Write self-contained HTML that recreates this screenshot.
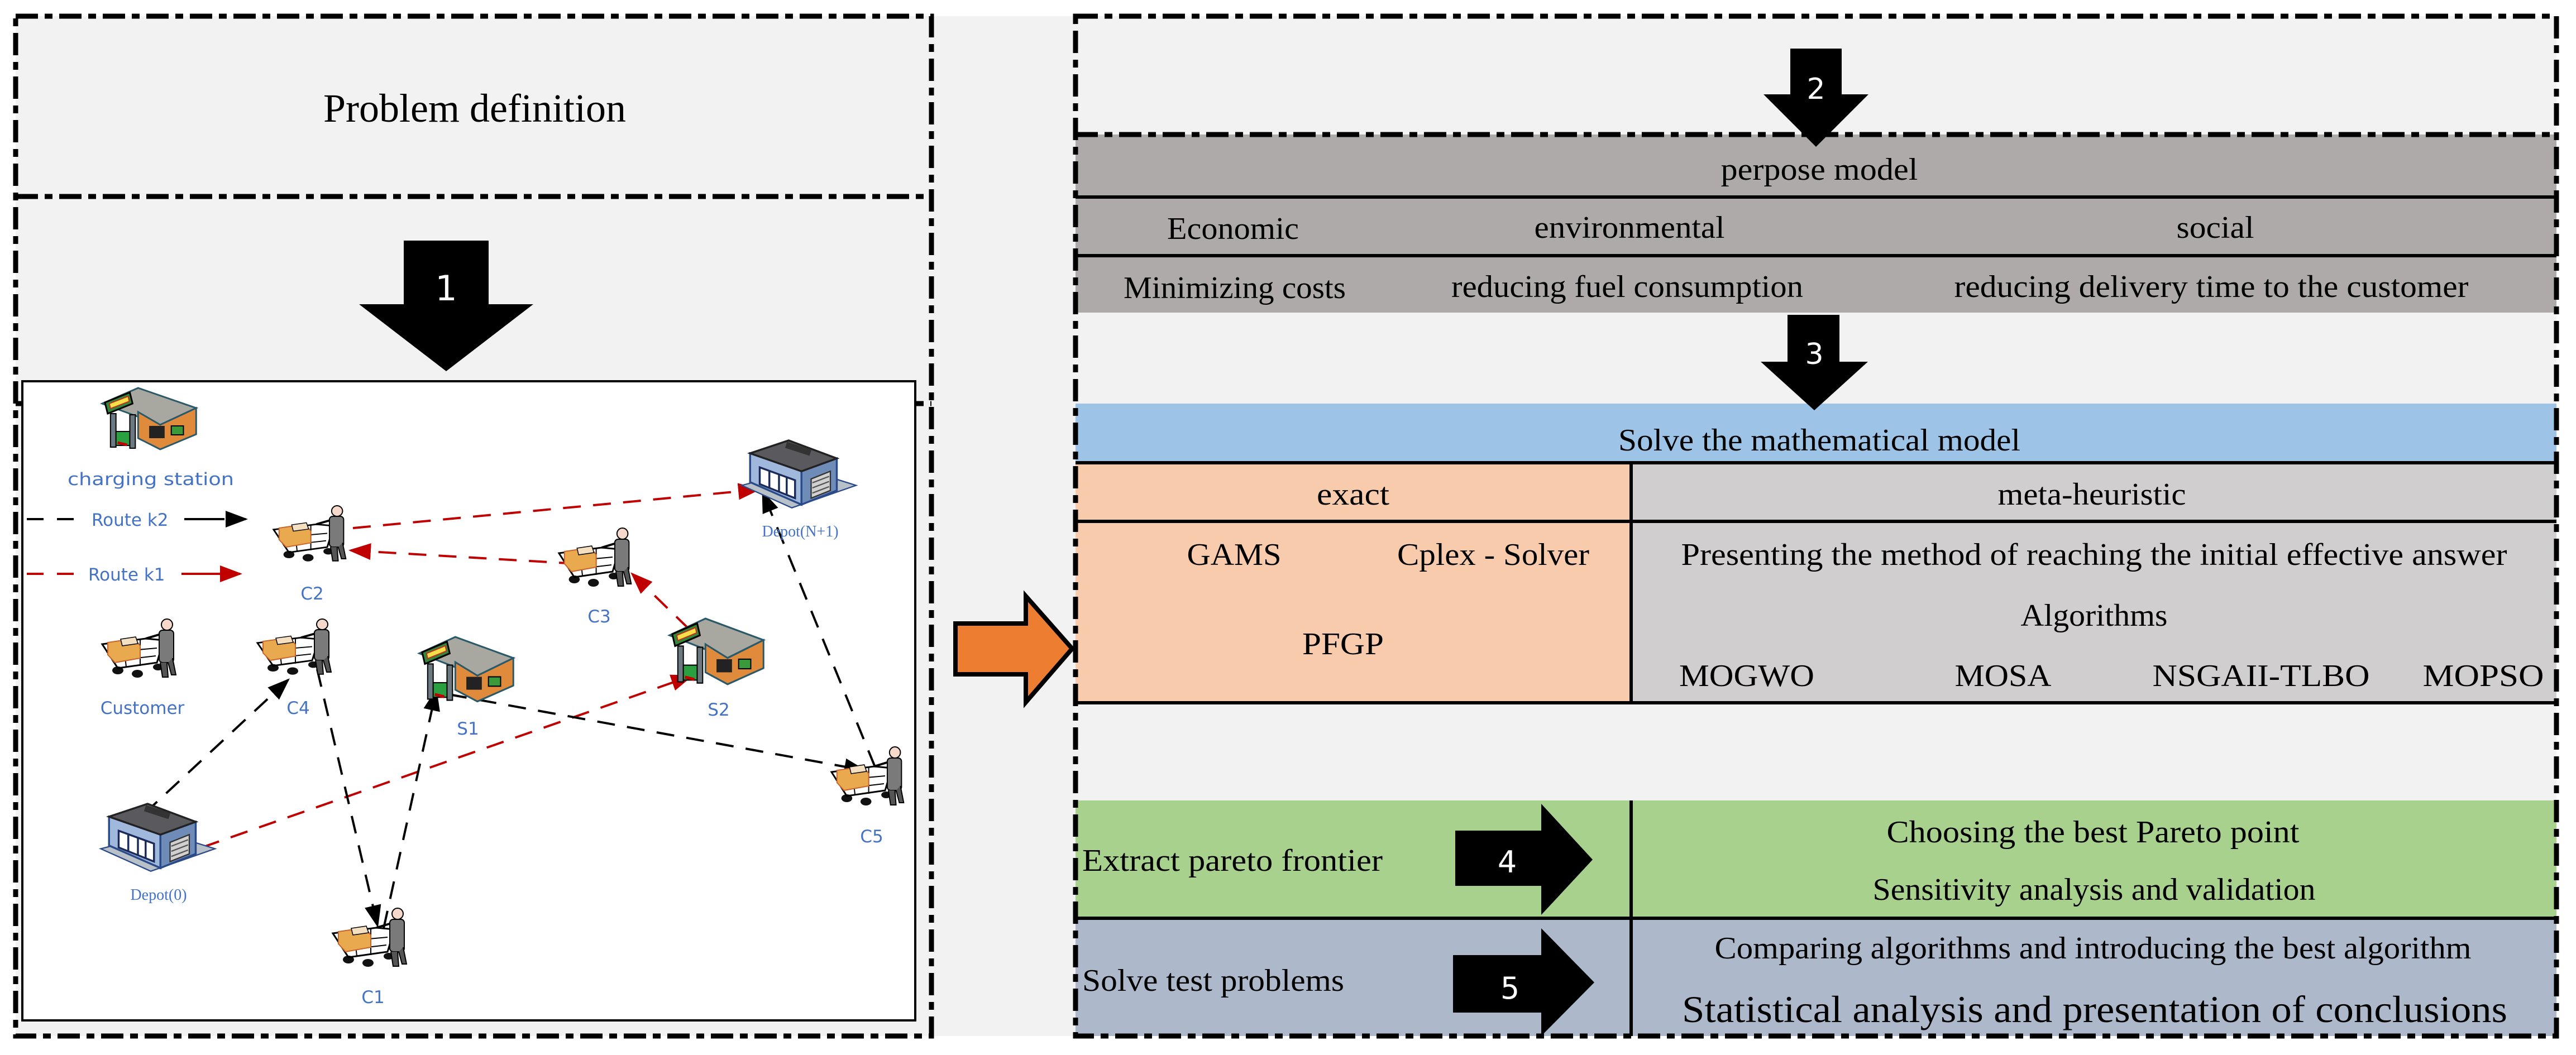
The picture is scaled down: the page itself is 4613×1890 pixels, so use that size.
<!DOCTYPE html>
<html><head><meta charset="utf-8"><style>
html,body{margin:0;padding:0;background:#fff;}
svg{display:block;}
</style></head><body>
<svg width="4613" height="1890" viewBox="0 0 4613 1890" xmlns="http://www.w3.org/2000/svg">
<defs>
<marker id="ab" markerWidth="10" markerHeight="8" refX="9" refY="4" orient="auto" markerUnits="userSpaceOnUse" viewBox="0 0 10 8">
</marker>
<marker id="mb" viewBox="0 0 10 10" refX="9" refY="5" markerWidth="40" markerHeight="30" markerUnits="userSpaceOnUse" orient="auto" preserveAspectRatio="none"><path d="M0,0 L10,5 L0,10 z" fill="#000"/></marker>
<marker id="mr" viewBox="0 0 10 10" refX="9" refY="5" markerWidth="40" markerHeight="30" markerUnits="userSpaceOnUse" orient="auto" preserveAspectRatio="none"><path d="M0,0 L10,5 L0,10 z" fill="#c00000"/></marker>
<g id="cart">
  <ellipse cx="30" cy="92" rx="10" ry="7" fill="#111"/>
  <ellipse cx="65" cy="98" rx="10" ry="7" fill="#111"/>
  <ellipse cx="102" cy="86" rx="9" ry="6" fill="#111"/>
  <path d="M2,45 L80,35 L112,38 L100,78 L30,88 Z" fill="none" stroke="#000" stroke-width="3"/>
  <path d="M10,60 L100,52 M20,75 L98,66 M40,40 L45,86 M70,36 L70,84" stroke="#000" stroke-width="2" fill="none"/>
  <path d="M12,42 L60,35 L70,48 L70,70 L25,78 L12,64 Z" fill="#e8a94f" stroke="#c8642a" stroke-width="2"/>
  <path d="M35,36 L62,32 L66,44 L38,48 Z" fill="#f4e0c0" stroke="#000" stroke-width="1.5"/>
  <path d="M80,35 L110,26" stroke="#000" stroke-width="4"/>
  <rect x="104" y="20" width="26" height="58" rx="6" fill="#7a7a7a" stroke="#000" stroke-width="2"/>
  <path d="M106,78 L110,104 L120,104 L118,78 M120,78 L126,100 L134,100 L128,70" fill="#555" stroke="#000" stroke-width="2"/>
  <circle cx="118" cy="10" r="10" fill="#f7d9cc" stroke="#000" stroke-width="2"/>
</g>
<g id="station">
  <path d="M5,30 L70,2 L175,38 L110,68 Z" fill="#a8a8a0" stroke="#2a5a6a" stroke-width="3"/>
  <path d="M70,45 L110,68 L175,38 L175,85 L110,112 L70,92 Z" fill="#e08a3c" stroke="#2a5a6a" stroke-width="3"/>
  <rect x="130" y="70" width="22" height="16" fill="#3a9a3a" stroke="#000" stroke-width="2"/>
  <rect x="90" y="70" width="28" height="22" fill="#222"/>
  <path d="M10,28 L55,10 L60,30 L15,48 Z" fill="#2f8a3a" stroke="#000" stroke-width="3"/>
  <path d="M18,30 L52,17 L54,26 L20,39 Z" fill="#f5e04a" stroke="#c03020" stroke-width="2"/>
  <rect x="20" y="48" width="10" height="60" fill="#6a7a80" stroke="#000" stroke-width="2"/>
  <rect x="55" y="50" width="10" height="60" fill="#6a7a80" stroke="#000" stroke-width="2"/>
  <rect x="30" y="80" width="25" height="25" fill="#2aa040" stroke="#000" stroke-width="2"/>
  <path d="M33,100 L50,104" stroke="#c00000" stroke-width="5"/>
</g>
<g id="depot">
  <path d="M2,70 L80,105 L180,70 L100,45 Z" fill="#b8c0c8" stroke="#2a4a8a" stroke-width="2"/>
  <path d="M15,20 L95,48 L95,100 L15,65 Z" fill="#9fb8dc" stroke="#2a4a8a" stroke-width="3"/>
  <path d="M95,48 L150,28 L150,78 L95,100 Z" fill="#6f8cb8" stroke="#2a4a8a" stroke-width="3"/>
  <path d="M15,20 L75,0 L150,28 L95,48 Z" fill="#5a5a5e" stroke="#222" stroke-width="3"/>
  <rect x="70" y="8" width="40" height="10" fill="#333" transform="rotate(18 90 13)"/>
  <path d="M30,42 L85,62 L85,90 L30,68 Z" fill="#fff" stroke="#1a2a5a" stroke-width="3"/>
  <path d="M45,48 L45,75 M60,53 L60,80 M72,58 L72,85" stroke="#1a2a5a" stroke-width="3"/>
  <path d="M110,60 L140,48 L140,78 L110,90 Z" fill="#d0d0d0" stroke="#333" stroke-width="2"/>
  <path d="M112,66 L138,56 M112,74 L138,64 M112,82 L138,72" stroke="#555" stroke-width="2"/>
</g>
</defs>

<!-- background -->
<rect x="28" y="29" width="4550" height="1827" fill="#f2f2f2"/>

<!-- LEFT PANEL -->
<g fill="none" stroke="#000" stroke-width="9" stroke-dasharray="40 12 14 12">
  <rect x="28" y="29" width="1640" height="1827"/>
  <line x1="28" y1="352" x2="1668" y2="352"/>
  <line x1="28" y1="723" x2="1668" y2="723"/>
</g>
<text x="850" y="218" font-family="Liberation Serif, serif" font-size="72" text-anchor="middle" textLength="542" lengthAdjust="spacingAndGlyphs">Problem definition</text>
<polygon points="723,431 875,431 875,545 955,545 799,665 643,545 723,545" fill="#000"/>
<text x="799" y="538" font-family="DejaVu Sans, sans-serif" font-size="62" fill="#fff" text-anchor="middle">1</text>

<rect x="40" y="683" width="1599" height="1145" fill="#fff" stroke="#000" stroke-width="4"/>

<!-- legend -->
<line x1="48" y1="930" x2="440" y2="930" stroke="#000" stroke-width="4" stroke-dasharray="30 24" marker-end="url(#mb)"/>
<rect x="150" y="905" width="190" height="50" fill="#fff"/>
<line x1="330" y1="930" x2="380" y2="930" stroke="#000" stroke-width="4"/>
<text x="164" y="942" font-family="DejaVu Sans, sans-serif" font-size="31" fill="#4472c4">Route k2</text>
<line x1="48" y1="1028" x2="430" y2="1028" stroke="#c00000" stroke-width="4" stroke-dasharray="30 24" marker-end="url(#mr)"/>
<rect x="145" y="1003" width="190" height="50" fill="#fff"/>
<line x1="325" y1="1028" x2="380" y2="1028" stroke="#c00000" stroke-width="4"/>
<text x="158" y="1040" font-family="DejaVu Sans, sans-serif" font-size="31" fill="#4472c4">Route k1</text>

<!-- edges -->
<g stroke-width="4" stroke-dasharray="32 22" fill="none">
  <line x1="632" y1="946" x2="1358" y2="877" stroke="#c00000" marker-end="url(#mr)"/>
  <line x1="1033" y1="1010" x2="628" y2="986" stroke="#c00000" marker-end="url(#mr)"/>
  <line x1="1234" y1="1127" x2="1132" y2="1028" stroke="#c00000" marker-end="url(#mr)"/>
  <line x1="362" y1="1518" x2="1238" y2="1211" stroke="#c00000" marker-end="url(#mr)"/>
  <line x1="258" y1="1458" x2="516" y2="1218" stroke="#000" marker-end="url(#mb)"/>
  <line x1="568" y1="1199" x2="676" y2="1658" stroke="#000" marker-end="url(#mb)"/>
  <line x1="687" y1="1663" x2="781" y2="1237" stroke="#000" marker-end="url(#mb)"/>
  <line x1="804" y1="1244" x2="1548" y2="1380" stroke="#000" marker-end="url(#mb)"/>
  <line x1="1567" y1="1374" x2="1366" y2="882" stroke="#000" marker-end="url(#mb)"/>
</g>

<!-- icons -->
<use href="#station" transform="translate(178,693) scale(0.99,1.0)"/>
<use href="#station" transform="translate(746,1139) scale(0.99,1.05)"/>
<use href="#station" transform="translate(1194,1106) scale(0.99,1.07)"/>
<use href="#depot" transform="translate(1326,789) scale(1.15,1.15)"/>
<use href="#depot" transform="translate(178,1440) scale(1.15,1.15)"/>
<use href="#cart" transform="translate(488,906) scale(0.98,0.95)"/>
<use href="#cart" transform="translate(999,946) scale(0.98,1.0)"/>
<use href="#cart" transform="translate(181,1109) scale(1.0,1.0)"/>
<use href="#cart" transform="translate(459,1109) scale(1.0,0.95)"/>
<use href="#cart" transform="translate(1487,1338) scale(0.98,1.0)"/>
<use href="#cart" transform="translate(594,1627) scale(1.0,1.0)"/>

<!-- labels -->
<g font-family="DejaVu Sans, sans-serif" font-size="31" fill="#4472c4" text-anchor="middle">
  <text x="270" y="869" textLength="298" lengthAdjust="spacingAndGlyphs">charging station</text>
  <text x="559" y="1074">C2</text>
  <text x="1073" y="1115">C3</text>
  <text x="255" y="1279">Customer</text>
  <text x="534" y="1279">C4</text>
  <text x="838" y="1316">S1</text>
  <text x="1287" y="1282">S2</text>
  <text x="1561" y="1509">C5</text>
  <text x="668" y="1797">C1</text>
</g>
<g font-family="Liberation Serif, serif" font-size="28" fill="#4472c4" text-anchor="middle">
  <text x="1433" y="961">Depot(N+1)</text>
  <text x="284" y="1612">Depot(0)</text>
</g>

<!-- orange arrow -->
<polygon points="1711,1117 1837,1117 1837,1068 1920,1162 1837,1258 1837,1208 1711,1208" fill="#ed7d31" stroke="#000" stroke-width="8" stroke-linejoin="miter"/>

<!-- RIGHT PANEL -->
<rect x="1926" y="241" width="2652" height="319" fill="#aeaaaa"/>
<rect x="1926" y="723" width="2652" height="106" fill="#9dc3e6"/>
<rect x="1926" y="829" width="995" height="430" fill="#f8cbad"/>
<rect x="2921" y="829" width="1657" height="430" fill="#d0cece"/>
<rect x="1926" y="1434" width="2652" height="211" fill="#a9d18e"/>
<rect x="1926" y="1645" width="2652" height="211" fill="#adb9ca"/>
<g stroke="#000" stroke-width="6">
  <line x1="1926" y1="353" x2="4578" y2="353"/>
  <line x1="1926" y1="458" x2="4578" y2="458"/>
  <line x1="1926" y1="829" x2="4578" y2="829"/>
  <line x1="1926" y1="934" x2="4578" y2="934"/>
  <line x1="1926" y1="1259" x2="4578" y2="1259"/>
  <line x1="1926" y1="1645" x2="4578" y2="1645"/>
  <line x1="2921" y1="829" x2="2921" y2="1259"/>
  <line x1="2921" y1="1434" x2="2921" y2="1856"/>
</g>
<g fill="none" stroke="#000" stroke-width="9" stroke-dasharray="40 12 14 12">
  <rect x="1926" y="29" width="2652" height="1827"/>
  <line x1="1926" y1="241" x2="4578" y2="241"/>
</g>

<polygon points="3206,87 3298,87 3298,169 3346,169 3252,263 3158,169 3206,169" fill="#000"/>
<text x="3252" y="177" font-family="DejaVu Sans, sans-serif" font-size="52" fill="#fff" text-anchor="middle">2</text>
<polygon points="3201,564 3294,564 3294,648 3345,648 3249,735 3153,648 3201,648" fill="#000"/>
<text x="3249" y="652" font-family="DejaVu Sans, sans-serif" font-size="52" fill="#fff" text-anchor="middle">3</text>
<polygon points="2606,1488 2760,1488 2760,1440 2852,1540 2760,1639 2760,1587 2606,1587" fill="#000"/>
<text x="2699" y="1563" font-family="DejaVu Sans, sans-serif" font-size="54" fill="#fff" text-anchor="middle">4</text>
<polygon points="2602,1711 2760,1711 2760,1663 2855,1760 2760,1856 2760,1814 2602,1814" fill="#000"/>
<text x="2704" y="1789" font-family="DejaVu Sans, sans-serif" font-size="54" fill="#fff" text-anchor="middle">5</text>

<g font-family="Liberation Serif, serif" font-size="56" fill="#000" text-anchor="middle" lengthAdjust="spacingAndGlyphs">
  <text x="3258" y="322" textLength="353" lengthAdjust="spacingAndGlyphs">perpose model</text>
  <text x="2208" y="428" textLength="236" lengthAdjust="spacingAndGlyphs">Economic</text>
  <text x="2918" y="426" textLength="341" lengthAdjust="spacingAndGlyphs">environmental</text>
  <text x="3967" y="426" textLength="139" lengthAdjust="spacingAndGlyphs">social</text>
  <text x="2211" y="534" textLength="398" lengthAdjust="spacingAndGlyphs">Minimizing costs</text>
  <text x="2914" y="532" textLength="630" lengthAdjust="spacingAndGlyphs">reducing fuel consumption</text>
  <text x="3960" y="532" textLength="921" lengthAdjust="spacingAndGlyphs">reducing delivery time to the customer</text>
  <text x="3258" y="807" textLength="720" lengthAdjust="spacingAndGlyphs">Solve the mathematical model</text>
  <text x="2423" y="904" textLength="130" lengthAdjust="spacingAndGlyphs">exact</text>
  <text x="3746" y="904" textLength="337" lengthAdjust="spacingAndGlyphs">meta-heuristic</text>
  <text x="2210" y="1012" textLength="169" lengthAdjust="spacingAndGlyphs">GAMS</text>
  <text x="2674" y="1012" textLength="344" lengthAdjust="spacingAndGlyphs">Cplex - Solver</text>
  <text x="2405" y="1172" textLength="146" lengthAdjust="spacingAndGlyphs">PFGP</text>
  <text x="3750" y="1012" textLength="1479" lengthAdjust="spacingAndGlyphs">Presenting the method of reaching the initial effective answer</text>
  <text x="3750" y="1121" textLength="263" lengthAdjust="spacingAndGlyphs">Algorithms</text>
  <text x="3128" y="1229" textLength="242" lengthAdjust="spacingAndGlyphs">MOGWO</text>
  <text x="3587" y="1229" textLength="173" lengthAdjust="spacingAndGlyphs">MOSA</text>
  <text x="4049" y="1229" textLength="389" lengthAdjust="spacingAndGlyphs">NSGAII-TLBO</text>
  <text x="4447" y="1229" textLength="217" lengthAdjust="spacingAndGlyphs">MOPSO</text>
  <text x="3748" y="1509" textLength="739" lengthAdjust="spacingAndGlyphs">Choosing the best Pareto point</text>
  <text x="3750" y="1612" textLength="793" lengthAdjust="spacingAndGlyphs">Sensitivity analysis and validation</text>
  <text x="3748" y="1717" textLength="1355" lengthAdjust="spacingAndGlyphs">Comparing algorithms and introducing the best algorithm</text>
  <text x="3751" y="1831" font-size="68" textLength="1478" lengthAdjust="spacingAndGlyphs">Statistical analysis and presentation of conclusions</text>
</g>
<g font-family="Liberation Serif, serif" font-size="56" fill="#000">
  <text x="1938" y="1560" textLength="538" lengthAdjust="spacingAndGlyphs">Extract pareto frontier</text>
  <text x="1938" y="1775" textLength="469" lengthAdjust="spacingAndGlyphs">Solve test problems</text>
</g>
</svg>
</body></html>
